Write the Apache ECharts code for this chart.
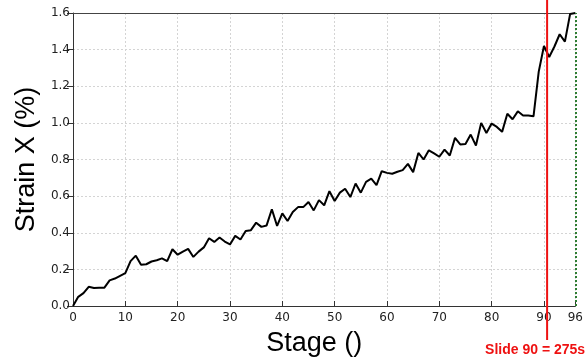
<!DOCTYPE html>
<html>
<head>
<meta charset="utf-8">
<script src="https://cdn.jsdelivr.net/npm/echarts@6/dist/echarts.min.js"></script>
<style>
  html, body { margin: 0; padding: 0; background: #fff; }
  #chart { width: 586px; height: 362px; }
</style>
</head>
<body>
<div id="chart"></div>
<script>
// strain per stage, stage 0..96
let stages = [];
for (let i = 0; i <= 96; i++) stages.push(i);
let strainX = [
    0.00, 0.05, 0.07, 0.105, 0.098, 0.10, 0.10, 0.14, 0.15, 0.165,
    0.18, 0.245, 0.275, 0.225, 0.228, 0.243, 0.25, 0.26, 0.245, 0.31,
    0.28, 0.297, 0.312, 0.268, 0.297, 0.32, 0.37, 0.35, 0.374, 0.352,
    0.336, 0.383, 0.363, 0.41, 0.414, 0.455, 0.432, 0.44, 0.528, 0.437,
    0.506, 0.464, 0.513, 0.54, 0.54, 0.568, 0.522, 0.578, 0.55, 0.627,
    0.573, 0.619, 0.64, 0.595, 0.669, 0.619, 0.678, 0.695, 0.66, 0.736,
    0.727, 0.722, 0.733, 0.742, 0.776, 0.731, 0.836, 0.80, 0.85, 0.833,
    0.815, 0.854, 0.822, 0.918, 0.882, 0.885, 0.936, 0.876, 1.0, 0.945,
    0.996, 0.978, 0.951, 1.05, 1.02, 1.063, 1.04, 1.04, 1.036, 1.28,
    1.42, 1.36, 1.417, 1.484, 1.444, 1.595, 1.6
];
let slideStage = 90.6;
let slideLabel = 'Slide 90 = 275s';
let endStage = 96;

let chart = echarts.init(document.getElementById('chart'));
let seriesData = stages.map((s, i) => [s, strainX[i]]);

const option = {
    animation: false,
    grid: { left: 73, right: 10, top: 13, bottom: 55 },
    xAxis: [{
        type: 'value',
        min: 0,
        max: 96,
        interval: 10,
        name: 'Stage ()',
        nameLocation: 'middle',
        nameGap: 24,
        nameTextStyle: { fontFamily: 'Liberation Sans', fontSize: 27, color: '#000', padding: [0, 20, 0, 0] },
        axisLine: { lineStyle: { color: '#333', width: 1 } },
        axisTick: { inside: true, length: 5, lineStyle: { color: '#333' } },
        axisLabel: { fontFamily: 'DejaVu Sans', fontSize: 12, color: '#222', margin: 6 },
        splitLine: { show: true, lineStyle: { color: '#d4d4d4', type: [2, 2], width: 1 } }
    }, {
        type: 'value',
        position: 'top',
        min: 0,
        max: 96,
        axisLine: { show: true, lineStyle: { color: '#444', width: 1 } },
        axisTick: { show: false },
        axisLabel: { show: false },
        splitLine: { show: false }
    }],
    yAxis: {
        type: 'value',
        min: 0,
        max: 1.6,
        interval: 0.2,
        name: 'Strain X (%)',
        nameLocation: 'middle',
        nameGap: 32,
        nameTextStyle: { fontFamily: 'Liberation Sans', fontSize: 27, color: '#000' },
        axisLine: { show: true, lineStyle: { color: '#333', width: 1 } },
        axisTick: { show: true, length: 6, lineStyle: { color: '#333' } },
        axisLabel: {
            fontFamily: 'DejaVu Sans', fontSize: 12, color: '#222', margin: 3,
            formatter: v => v.toFixed(1)
        },
        splitLine: { show: true, lineStyle: { color: '#d4d4d4', type: [2, 2], width: 1 } }
    },
    series: [{
        type: 'line',
        data: seriesData,
        showSymbol: false,
        lineStyle: { color: '#000', width: 2 },
        markLine: {
            silent: true,
            symbol: 'none',
            label: { show: false },
            lineStyle: { color: '#2e7d32', type: 'dotted', width: 2 },
            data: [{ xAxis: endStage }]
        }
    }]
};
chart.setOption(option);

// red slide marker spans past the plot, so it is drawn from the axis scale
let px = chart.convertToPixel({ xAxisIndex: 0 }, slideStage);
chart.setOption({
    graphic: [{
        type: 'line',
        shape: { x1: px, y1: 0, x2: px, y2: 340 },
        style: { stroke: '#ee1111', lineWidth: 2 },
        z: 100
    }, {
        type: 'text',
        x: px - 12,
        y: 350,
        style: {
            text: slideLabel,
            fill: '#ee1111',
            font: 'bold 14px "Liberation Sans"',
            textAlign: 'center',
            textVerticalAlign: 'middle'
        },
        z: 100
    }]
});
</script>
</body>
</html>
